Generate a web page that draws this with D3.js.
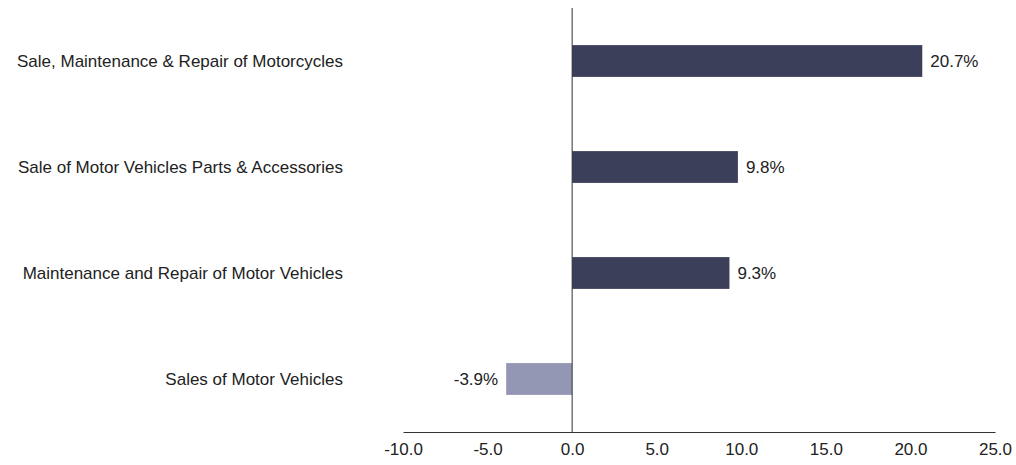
<!DOCTYPE html>
<html><head><meta charset="utf-8">
<script src="https://cdn.jsdelivr.net/npm/d3@7"></script>
<style>body{margin:0;background:#fff}svg{display:block}text{font-family:"Liberation Sans",Arial,sans-serif;fill:#222}</style>
</head><body>
<svg id="c" width="1016" height="465"></svg>
<script>
const categories = ["Sale, Maintenance & Repair of Motorcycles","Sale of Motor Vehicles Parts & Accessories","Maintenance and Repair of Motor Vehicles","Sales of Motor Vehicles"];
const values = [20.7, 9.8, 9.3, -3.9];
const tickValues = [-10,-5,0,5,10,15,20,25];

const svg = d3.select("#c");
const x = d3.scaleLinear().domain([-10,25]).range([403,995]);
const y = d3.scaleBand().domain(categories).range([8,432]).paddingInner(0.7).paddingOuter(0.35);

svg.selectAll("rect.bar").data(categories).join("rect").attr("class","bar")
  .attr("x",(d,i)=>x(Math.min(0,values[i])))
  .attr("width",(d,i)=>Math.abs(x(values[i])-x(0)))
  .attr("y",d=>y(d)).attr("height",y.bandwidth())
  .attr("fill",(d,i)=>values[i]<0?"#9497b4":"#3b3f5a");

svg.selectAll("text.val").data(categories).join("text").attr("class","val")
  .attr("x",(d,i)=>values[i]<0?x(values[i])-8:x(values[i])+8)
  .attr("y",d=>y(d)+y.bandwidth()/2).attr("dy","0.35em")
  .attr("text-anchor",(d,i)=>values[i]<0?"end":"start")
  .style("font-size","17px")
  .text((d,i)=>values[i].toFixed(1)+"%");

svg.selectAll("text.cat").data(categories).join("text").attr("class","cat")
  .attr("x",343).attr("y",d=>y(d)+y.bandwidth()/2).attr("dy","0.35em")
  .attr("text-anchor","end").style("font-size","17px").text(d=>d);

svg.append("line").attr("x1",x(0)).attr("x2",x(0)).attr("y1",8).attr("y2",432)
  .attr("stroke","#333").attr("stroke-width",1);

const ax = svg.append("g").attr("transform","translate(0,432)")
  .call(d3.axisBottom(x).tickValues(tickValues).tickSize(0).tickPadding(11).tickFormat(d=>d.toFixed(1)));
ax.select(".domain").attr("stroke","#333");
ax.selectAll("text").style("font-size","17px").style("font-family","Liberation Sans, Arial, sans-serif").attr("fill","#222");
</script>
</body></html>
